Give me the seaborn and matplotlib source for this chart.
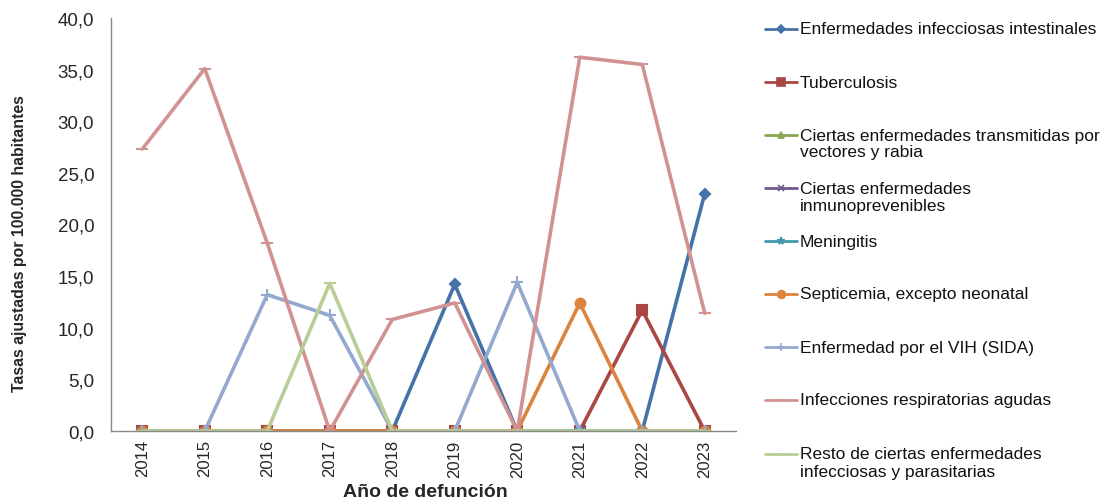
import numpy as np
import pandas as pd
import matplotlib
matplotlib.use("Agg")
import matplotlib.pyplot as plt
import seaborn as sns
from matplotlib.lines import Line2D
from matplotlib.ticker import FuncFormatter, FixedLocator

years = ["2014", "2015", "2016", "2017", "2018", "2019", "2020", "2021", "2022", "2023"]

intestinales = [0, 0, 0, 0, 0, 14.2, 0, 0, 0, 23.0]
tuberculosis = [0, 0, 0, 0, 0, 0, 0, 0, 11.7, 0]
vectores = [0, 0, 0, 0, 0, 0, 0, 0, 0, 0]
inmunoprevenibles = [0, 0, 0, 0, 0, 0, 0, 0, 0, 0]
meningitis = [0, 0, 0, 0, 0, 0, 0, 0, 0, 0]
septicemia = [0, 0, 0, 0, 0, 0, 0, 12.4, 0, 0]
vih = [0, 0, 13.2, 11.2, 0, 0, 14.4, 0, 0, 0]
respiratorias = [27.3, 35.1, 18.2, 0, 10.8, 12.4, 0, 36.2, 35.5, 11.4]
resto = [0, 0, 0, 14.3, 0, 0, 0, 0, 0, 0]

series_names = [
    "Enfermedades infecciosas intestinales",
    "Tuberculosis",
    "Ciertas enfermedades transmitidas por\nvectores y rabia",
    "Ciertas enfermedades\ninmunoprevenibles",
    "Meningitis",
    "Septicemia, excepto neonatal",
    "Enfermedad por el VIH (SIDA)",
    "Infecciones respiratorias agudas",
    "Resto de ciertas enfermedades\ninfecciosas y parasitarias",
]
series_values = [intestinales, tuberculosis, vectores, inmunoprevenibles,
                 meningitis, septicemia, vih, respiratorias, resto]
colors = ["#4572A7", "#AA4643", "#89A54E", "#71588F", "#4198AF",
          "#DB843D", "#93A9CF", "#D19392", "#B9CD96"]
markers = ["D", "s", "^", "x", "*", "o", "+", "_", "_"]
msizes = [5, 7, 6, 6, 7, 7, 8, 8, 8]

sns.set_style("white")
plt.rcParams["font.family"] = ["Liberation Sans", "DejaVu Sans"]

W, H = 1115, 502
fig = plt.figure(figsize=(W / 100, H / 100), dpi=100)
ax = fig.add_axes([111 / W, 1 - 432 / H, (736 - 111) / W, (432 - 19) / H])

x = np.arange(len(years))
for name, vals, c, m, ms in zip(series_names, series_values, colors, markers, msizes):
    df = pd.DataFrame({"x": x, "y": vals})
    sns.lineplot(data=df, x="x", y="y", ax=ax, color=c, marker=m, markersize=ms,
                 markeredgecolor=c, markeredgewidth=1.5, linewidth=2.6, legend=False)

ax.set_xlim(-0.5, len(years) - 0.5)
ax.set_ylim(0, 40)
ax.set_yticks(np.arange(0, 41, 5))
ax.yaxis.set_major_formatter(FuncFormatter(lambda v, p: f"{v:.1f}".replace(".", ",")))
ax.set_xticks(x)
ax.set_xticklabels(years, rotation=90, fontsize=12)
ax.xaxis.set_minor_locator(FixedLocator(np.arange(-0.5, len(years), 1.0)))
ax.tick_params(axis="x", which="major", length=0, pad=6)
ax.tick_params(axis="x", which="minor", length=6, color="#888888", width=1)
ax.tick_params(axis="y", length=6, color="#888888", width=1, labelsize=13.5, pad=6)
for s in ["top", "right"]:
    ax.spines[s].set_visible(False)
for s in ["left", "bottom"]:
    ax.spines[s].set_color("#888888")
    ax.spines[s].set_linewidth(1)

ax.set_xlabel("")
ax.set_ylabel("")
fig.text(425 / W, 1 - 493 / H, "Año de defunción", ha="center", va="center",
         fontsize=14, fontweight="bold")
fig.text(20 / W, 1 - 244 / H, "Tasas ajustadas por 100.000 habitantes",
         rotation=90, ha="center", va="center", fontsize=11.4, fontweight="bold")

# Legend (manual placement, Excel-like spacing)
ys = [30, 83, 136, 189, 242, 295, 348, 401, 455]
for name, c, m, ms, yy in zip(series_names, colors, markers, msizes, ys):
    fy = 1 - yy / H
    ln = Line2D([765 / W, 781 / W, 797 / W], [fy, fy, fy], transform=fig.transFigure,
                color=c, linewidth=2.0, marker=m, markersize=ms * 0.8,
                markeredgecolor=c, markeredgewidth=1.2, markevery=[1])
    fig.add_artist(ln)
    for i, line in enumerate(name.split("\n")):
        fig.text(800 / W, 1 - (yy + i * 17) / H, line, ha="left", va="center",
                 fontsize=12.5, color="#111111")

fig.savefig("out.png", dpi=100)
